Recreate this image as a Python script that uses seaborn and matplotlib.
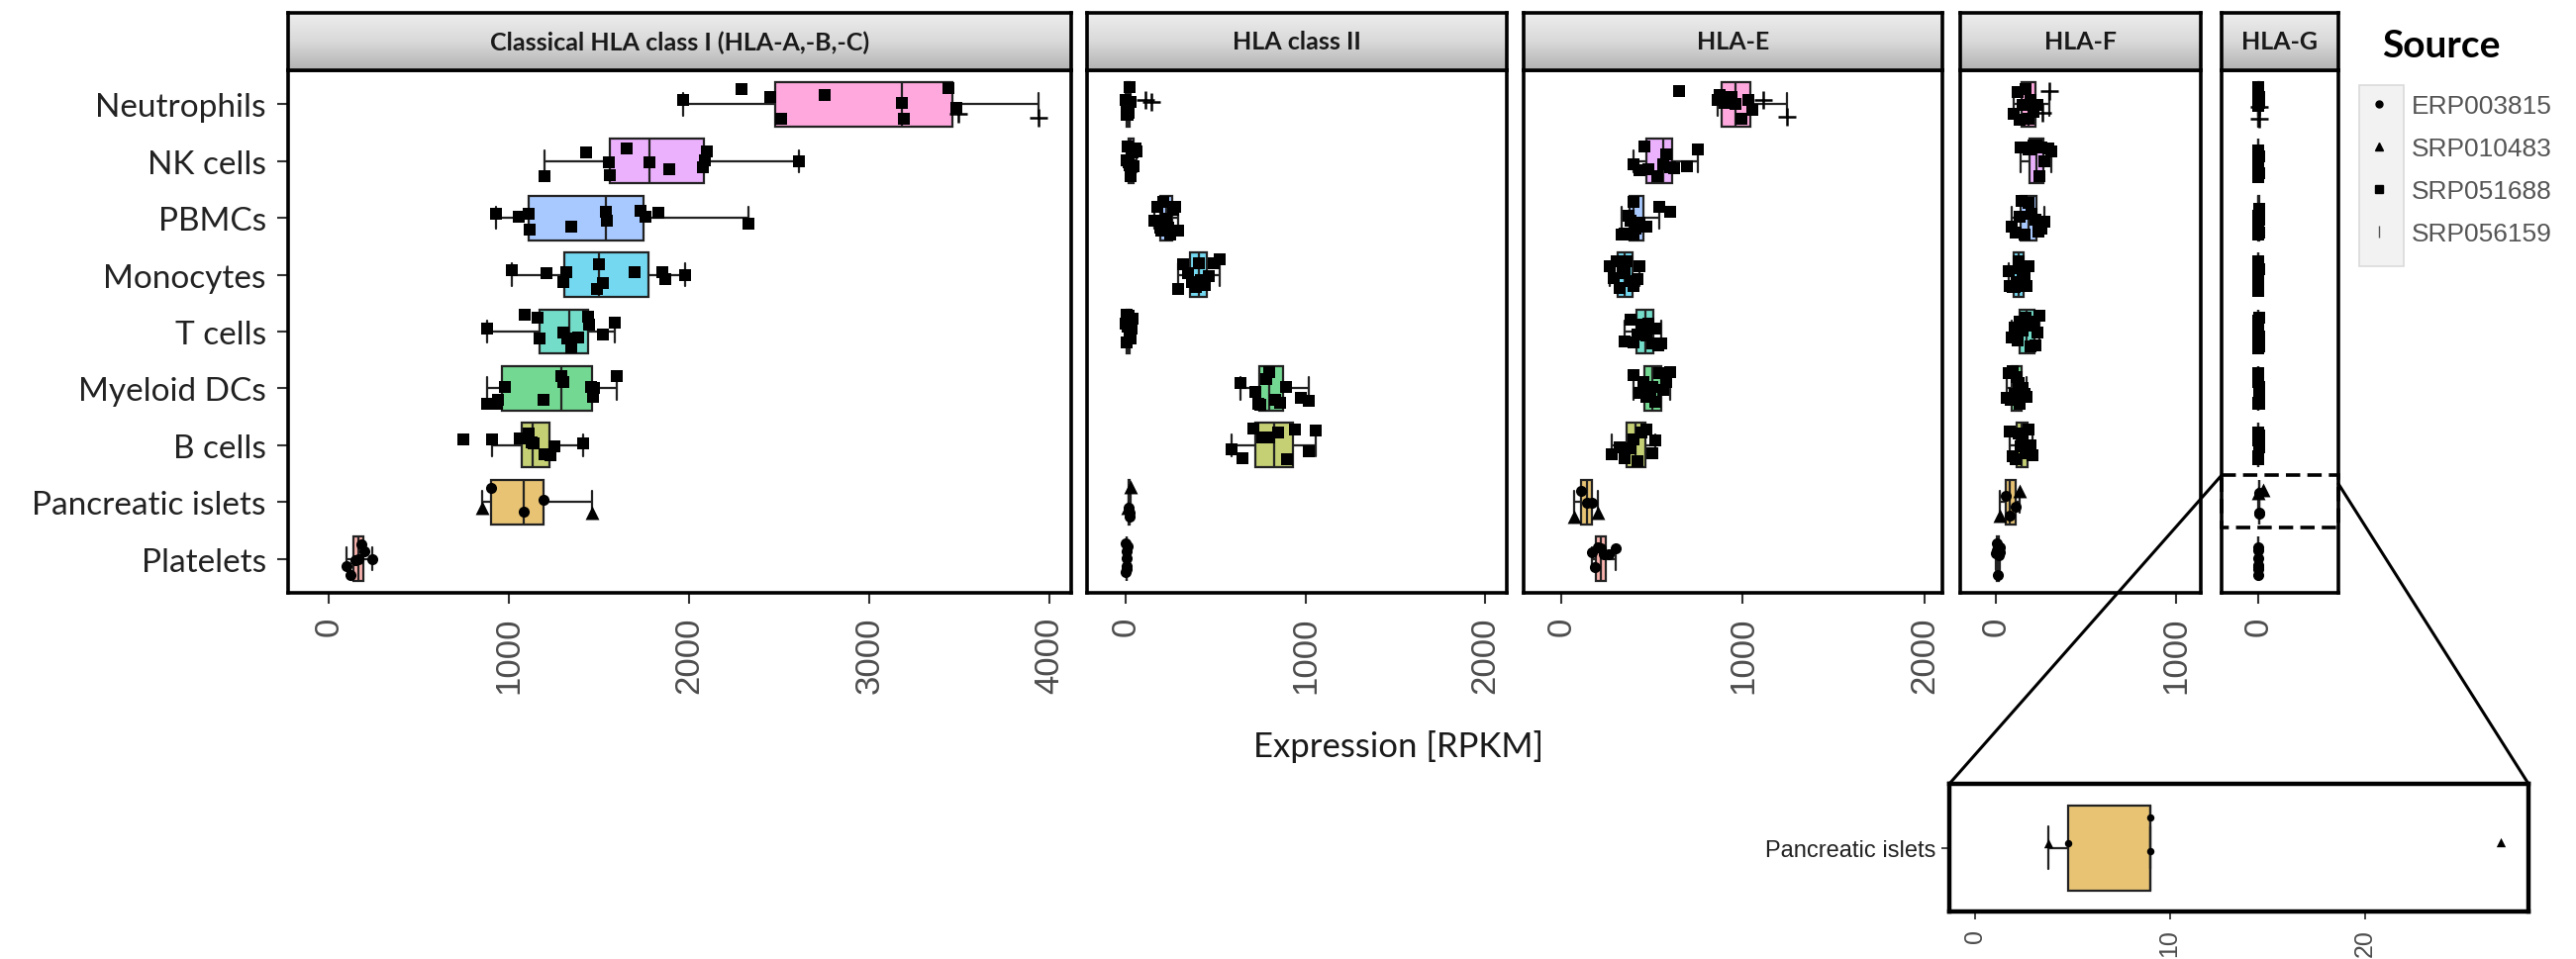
import numpy as np
import pandas as pd
import matplotlib
matplotlib.use("Agg")
import matplotlib.pyplot as plt
import seaborn as sns
from matplotlib import font_manager
from matplotlib.colors import to_rgb, LinearSegmentedColormap
from matplotlib.lines import Line2D
from matplotlib.patches import Rectangle, ConnectionPatch

# ---- data ----
CELLS = ["Neutrophils", "NK cells", "PBMCs", "Monocytes", "T cells",
         "Myeloid DCs", "B cells", "Pancreatic islets", "Platelets"]
PANELS = ["Classical HLA class I (HLA-A,-B,-C)", "HLA class II", "HLA-E", "HLA-F", "HLA-G"]
PANEL_TICKS = [[0, 1000, 2000, 3000, 4000], [0, 1000, 2000], [0, 1000, 2000], [0, 1000], [0]]
SOURCES = ["ERP003815", "SRP010483", "SRP051688", "SRP056159"]

CELL_SOURCES = [
    ["SRP051688"] * 9 + ["SRP056159"] * 2,
    ["SRP051688"] * 11,
    ["SRP051688"] * 11,
    ["SRP051688"] * 11,
    ["SRP051688"] * 12,
    ["SRP051688"] * 11,
    ["SRP051688"] * 10,
    ["SRP010483", "ERP003815", "ERP003815", "ERP003815", "SRP010483"],
    ["ERP003815"] * 7,
]

CLASS_I = [
    [1965, 2290, 2450, 2510, 2750, 3180, 3190, 3440, 3485, 3495, 3940],
    [1200, 1430, 1555, 1560, 1655, 1780, 1890, 2075, 2085, 2100, 2610],
    [930, 1054, 1110, 1115, 1345, 1540, 1545, 1730, 1760, 1830, 2330],
    [1015, 1210, 1300, 1320, 1490, 1500, 1520, 1700, 1850, 1870, 1980],
    [880, 1090, 1160, 1170, 1300, 1325, 1345, 1385, 1440, 1445, 1520, 1590],
    [880, 935, 940, 980, 1190, 1290, 1300, 1455, 1465, 1470, 1600],
    [745, 905, 1060, 1110, 1125, 1135, 1200, 1230, 1250, 1410],
    [850, 900, 1080, 1190, 1460],
    [100, 120, 150, 165, 180, 200, 240],
]
CLASS_II = [
    [0, 3, 5, 8, 10, 12, 15, 20, 25, 110, 143],
    [5, 10, 15, 20, 25, 30, 35, 40, 45, 55, 60],
    [160, 175, 190, 200, 210, 225, 235, 250, 265, 275, 290],
    [290, 320, 345, 370, 390, 405, 420, 440, 460, 490, 525],
    [0, 3, 5, 8, 10, 12, 15, 18, 22, 28, 32, 40],
    [640, 720, 735, 750, 780, 800, 830, 860, 890, 975, 1020],
    [590, 650, 710, 760, 800, 850, 900, 940, 1020, 1055],
    [10, 18, 20, 22, 28],
    [0, 2, 4, 5, 6, 8, 10],
]
HLA_E = [
    [650, 860, 870, 900, 940, 960, 990, 1030, 1050, 1110, 1245],
    [400, 430, 460, 480, 530, 560, 580, 600, 620, 690, 750],
    [330, 350, 370, 380, 395, 400, 410, 430, 470, 540, 600],
    [265, 290, 305, 320, 335, 350, 360, 380, 400, 420, 430],
    [350, 380, 400, 420, 440, 455, 470, 480, 500, 520, 535, 550],
    [400, 430, 450, 470, 490, 500, 520, 540, 560, 580, 600],
    [280, 320, 350, 380, 400, 420, 440, 470, 500, 515],
    [70, 110, 140, 170, 200],
    [170, 185, 200, 215, 235, 260, 300],
]
HLA_F = [
    [100, 120, 135, 150, 165, 180, 195, 210, 230, 261, 295],
    [140, 160, 180, 195, 210, 225, 240, 255, 270, 290, 307],
    [90, 110, 130, 145, 160, 180, 200, 220, 235, 255, 270],
    [70, 80, 95, 105, 115, 125, 135, 150, 160, 170, 182],
    [90, 105, 120, 135, 150, 165, 180, 195, 210, 220, 230, 240],
    [60, 70, 85, 95, 105, 115, 125, 135, 150, 160, 170],
    [80, 95, 110, 125, 140, 150, 165, 180, 195, 205],
    [25, 55, 80, 110, 135],
    [0, 4, 8, 12, 16, 20, 25],
]
HLA_G = [
    [0.5, 1, 1.5, 2, 2.5, 3, 3.5, 4, 5, 6, 8],
    [0.2, 0.5, 0.8, 1, 1.5, 2, 2.5, 3, 3.5, 4, 5],
    [0.5, 1, 1.5, 2, 2.5, 3, 4, 5, 6, 7, 9],
    [0.2, 0.4, 0.6, 0.8, 1, 1.3, 1.6, 2, 2.5, 3, 4],
    [0.3, 0.6, 1, 1.4, 1.8, 2.2, 2.6, 3, 3.5, 4, 5, 6],
    [0.5, 0.8, 1.2, 1.6, 2, 2.4, 2.8, 3.2, 4, 5, 6],
    [0.5, 1, 1.5, 2, 2.5, 3, 3.5, 4, 5, 6],
    [3.8, 4.8, 9.0, 9.0, 27],
    [0, 0.1, 0.2, 0.3, 0.5, 0.7, 1],
]
INSET_TICKS = [0, 10, 20]

# ---- styling ----
BOX_COLORS = ["#FF61C3", "#DB72FB", "#619CFF", "#00B9E3", "#00C19F",
              "#00BA38", "#93AA00", "#D39200", "#F8766D"]
MARKERS = {"ERP003815": ("o", 8), "SRP010483": ("^", 10),
           "SRP051688": ("s", 9), "SRP056159": ("+", 13)}


def soften(c, a=0.55):
    r, g, b = to_rgb(c)
    return (r * a + 1 - a, g * a + 1 - a, b * a + 1 - a)


def pick_font(*names):
    avail = {f.name for f in font_manager.fontManager.ttflist}
    for n in names:
        if n in avail:
            return n
    return "DejaVu Sans"


sns.set_style("white")
HUMAN = pick_font("Lato", "Open Sans", "DejaVu Sans")
ARIAL = pick_font("Liberation Sans", "DejaVu Sans")
NARROW = pick_font("Liberation Sans Narrow", "Liberation Sans")
plt.rcParams["font.family"] = [HUMAN, "DejaVu Sans"]

palette = {c: soften(col) for c, col in zip(CELLS, BOX_COLORS)}

rows = []
for panel, table in zip(PANELS, [CLASS_I, CLASS_II, HLA_E, HLA_F, HLA_G]):
    for cell, vals, srcs in zip(CELLS, table, CELL_SOURCES):
        for v, s in zip(vals, srcs):
            rows.append((panel, cell, s, v))
df = pd.DataFrame(rows, columns=["panel", "cell", "source", "value"])

FIG_W, FIG_H = 2602, 970
fig = plt.figure(figsize=(FIG_W / 100, FIG_H / 100), dpi=100, facecolor="white")


def frac(x0, y0, x1, y1):
    return [x0 / FIG_W, 1 - y1 / FIG_H, (x1 - x0) / FIG_W, (y1 - y0) / FIG_H]


PANEL_X = [(291, 1082), (1098, 1522), (1539, 1962), (1980, 2223), (2244, 2362)]
PANEL_Y = (72, 600)
STRIP_Y = (14, 72)
XLIMS = [(-225, 4120), (-215, 2120), (-208, 2100), (-197, 1137), (-202, 446)]

grad = LinearSegmentedColormap.from_list("strip", ["#EDEDED", "#D9D9D9", "#B3B3B3"])


def draw_points(ax, sub, order, jitter=0.3):
    for src in SOURCES:
        part = sub[sub["source"] == src]
        if part.empty:
            continue
        m, size = MARKERS[src]
        kw = dict(linewidth=1.8, edgecolor="black") if m == "+" else dict(linewidth=0)
        sns.stripplot(data=part, x="value", y="cell", order=order, jitter=jitter,
                      marker=m, size=size, color="black", ax=ax, zorder=3, **kw)


np.random.seed(7)
axes = []
for i, panel in enumerate(PANELS):
    x0, x1 = PANEL_X[i]
    ax = fig.add_axes(frac(x0, PANEL_Y[0], x1, PANEL_Y[1]))
    sub = df[df["panel"] == panel]
    sns.boxplot(data=sub, x="value", y="cell", hue="cell", order=CELLS, hue_order=CELLS,
                palette=palette, saturation=1, width=0.78, linewidth=1.6,
                linecolor="#222222", showfliers=False, legend=False, ax=ax)
    draw_points(ax, sub, CELLS)
    ax.set_xlim(*XLIMS[i])
    ax.set_ylim(len(CELLS) - 0.4, -0.6)
    ax.set_xticks(PANEL_TICKS[i])
    ax.set_xticklabels([str(t) for t in PANEL_TICKS[i]], rotation=90,
                       fontsize=25, color="#4D4D4D", family=ARIAL)
    ax.tick_params(axis="x", direction="out", length=8, width=1.5, color="#333333", pad=9,
                   bottom=True)
    if i == 0:
        ax.tick_params(axis="y", direction="out", length=8, width=1.5, color="#333333",
                       labelsize=24, labelcolor="#222222", pad=8, left=True)
    else:
        ax.tick_params(axis="y", left=False, labelleft=False)
    ax.set_xlabel("")
    ax.set_ylabel("")
    for sp in ax.spines.values():
        sp.set_visible(True)
        sp.set_color("black")
        sp.set_linewidth(2.6)
    axes.append(ax)

    sax = fig.add_axes(frac(x0, STRIP_Y[0], x1, STRIP_Y[1]))
    sax.imshow(np.linspace(0, 1, 64).reshape(-1, 1), cmap=grad, aspect="auto",
               extent=[0, 1, 0, 1])
    sax.set_xticks([])
    sax.set_yticks([])
    for sp in sax.spines.values():
        sp.set_color("black")
        sp.set_linewidth(2.6)
    sax.text(0.5, 0.5, panel, ha="center", va="center", fontsize=18,
             fontweight="bold", color="#1A1A1A", transform=sax.transAxes)

fig.text(1413 / FIG_W, 1 - 755 / FIG_H, "Expression [RPKM]", ha="center", va="center",
         fontsize=25, color="#1A1A1A")

# legend
fig.text(2406 / FIG_W, 1 - 46 / FIG_H, "Source", ha="left", va="center",
         fontsize=28, fontweight="bold", color="black")
fig.patches.append(Rectangle((2383 / FIG_W, 1 - 270 / FIG_H), 45 / FIG_W, 183 / FIG_H,
                             transform=fig.transFigure, facecolor="#F2F2F2",
                             edgecolor="#DADADA", linewidth=1.2))
handles = [Line2D([], [], ls="none", marker="o", ms=5, color="black"),
           Line2D([], [], ls="none", marker="^", ms=6, color="black"),
           Line2D([], [], ls="none", marker="s", ms=6, color="black"),
           Line2D([], [], ls="none", marker="|", ms=8, mew=1, color="#555555")]
leg = fig.legend(handles, SOURCES, loc="upper left",
                 bbox_to_anchor=(2383 / FIG_W, 1 - 96 / FIG_H), frameon=False,
                 borderpad=0, borderaxespad=0, handlelength=1.55, handletextpad=0.45,
                 labelspacing=0.72, prop={"family": ARIAL, "size": 19})
for t in leg.get_texts():
    t.set_color("#555555")

# zoomed inset for HLA-G in pancreatic islets
ax_g = axes[-1]
ax_in = fig.add_axes(frac(1969, 793, 2554, 922))
pi = df[(df["panel"] == PANELS[-1]) & (df["cell"] == "Pancreatic islets")]
sns.boxplot(data=pi, x="value", y="cell", order=["Pancreatic islets"],
            color=palette["Pancreatic islets"], saturation=1, width=0.8, linewidth=1.6,
            linecolor="#222222", showfliers=False, ax=ax_in)
np.random.seed(2)
draw_points(ax_in, pi, ["Pancreatic islets"], jitter=0.3)
for ln in ax_in.collections:
    ln.set_sizes(ln.get_sizes() * 0.45)
ax_in.set_xlim(-1.3, 28.4)
ax_in.set_ylim(0.6, -0.6)
ax_in.set_xticks(INSET_TICKS)
ax_in.set_xticklabels([str(t) for t in INSET_TICKS], rotation=90, fontsize=18,
                      color="#4D4D4D", family=ARIAL)
ax_in.tick_params(axis="x", direction="out", length=6, width=1.2, pad=6, bottom=True)
ax_in.tick_params(axis="y", direction="out", length=6, width=1.2, left=True, pad=4)
for t in ax_in.get_yticklabels():
    t.set_family(NARROW)
    t.set_fontsize(17)
    t.set_color("#222222")
ax_in.set_xlabel("")
ax_in.set_ylabel("")
for sp in ax_in.spines.values():
    sp.set_visible(True)
    sp.set_color("black")
    sp.set_linewidth(3.2)

yx = ax_g.get_yaxis_transform()
fig.add_artist(Rectangle((0, 6.53), 1, 0.92, transform=yx, fill=False, edgecolor="black",
                         linewidth=2.6, linestyle=(0, (4, 2)), clip_on=False, zorder=5))
fig.add_artist(ConnectionPatch(xyA=(0, 6.53), coordsA=yx, xyB=(0, 1),
                               coordsB=ax_in.transAxes, color="black", linewidth=2.2))
fig.add_artist(ConnectionPatch(xyA=(1, 6.68), coordsA=yx, xyB=(1, 1),
                               coordsB=ax_in.transAxes, color="black", linewidth=2.2))

fig.savefig("out.png", dpi=100, facecolor="white")
